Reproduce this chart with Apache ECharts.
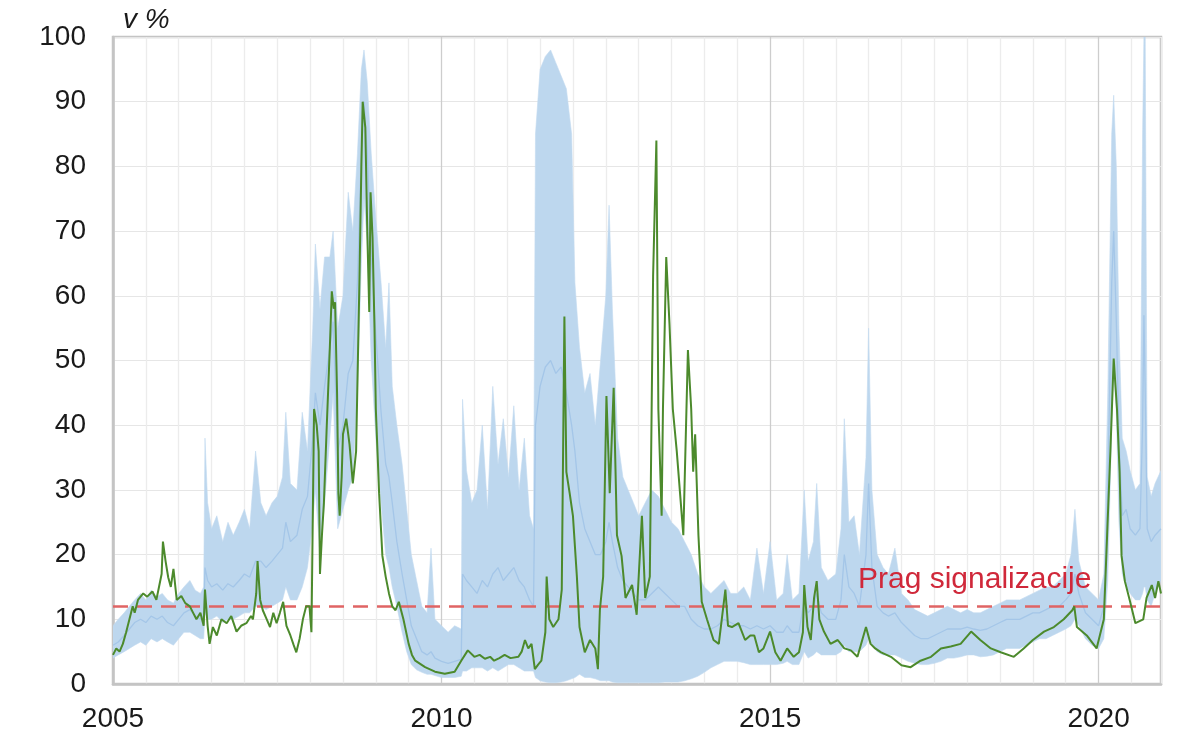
<!DOCTYPE html>
<html><head><meta charset="utf-8">
<script src="https://cdn.jsdelivr.net/npm/echarts@6/dist/echarts.min.js"></script>
<style>html,body{margin:0;padding:0;background:#fff}#c{width:1200px;height:744px}</style>
</head><body><div id="c"></div><script>
// ---- band (range across indicators): x in decimal years ----
const bandX = [2005.00,2005.08,2005.17,2005.25,2005.33,2005.42,2005.50,2005.58,2005.67,2005.75,2005.83,2005.92,
2006.00,2006.08,2006.17,2006.25,2006.33,2006.38,2006.40,2006.44,2006.50,2006.58,2006.67,2006.75,2006.83,2006.92,
2007.00,2007.08,2007.17,2007.25,2007.33,2007.42,2007.50,2007.58,2007.63,2007.70,2007.80,2007.88,2007.96,
2008.04,2008.08,2008.15,2008.22,2008.30,2008.35,2008.42,2008.50,2008.58,2008.65,2008.72,2008.78,2008.82,2008.87,2008.93,
2009.00,2009.08,2009.15,2009.20,2009.25,2009.32,2009.40,2009.47,2009.54,2009.62,2009.70,2009.78,2009.84,2009.90,
2010.00,2010.10,2010.20,2010.30,2010.32,2010.38,2010.46,2010.54,2010.62,2010.70,2010.78,2010.86,2010.94,
2011.02,2011.10,2011.18,2011.26,2011.34,2011.40,2011.43,2011.50,2011.58,2011.66,2011.74,2011.82,2011.90,2011.98,
2012.03,2012.10,2012.18,2012.26,2012.34,2012.42,2012.50,2012.55,2012.60,2012.68,2012.76,2012.84,2012.92,
2013.00,2013.10,2013.20,2013.30,2013.40,2013.50,2013.60,2013.70,2013.80,2013.90,
2014.00,2014.10,2014.20,2014.30,2014.40,2014.50,2014.60,2014.70,2014.80,2014.90,
2015.00,2015.10,2015.20,2015.26,2015.34,2015.44,2015.52,2015.58,2015.66,2015.71,2015.78,2015.88,
2016.00,2016.08,2016.13,2016.20,2016.28,2016.36,2016.46,2016.50,2016.55,2016.63,2016.72,2016.80,2016.90,
2017.00,2017.10,2017.20,2017.30,2017.40,2017.50,2017.60,2017.70,2017.80,2017.90,
2018.00,2018.10,2018.20,2018.30,2018.40,2018.50,2018.60,2018.70,2018.80,2018.90,
2019.00,2019.10,2019.20,2019.30,2019.40,2019.50,2019.58,2019.64,2019.70,2019.80,2019.90,
2020.00,2020.08,2020.14,2020.20,2020.23,2020.27,2020.31,2020.36,2020.42,2020.48,2020.56,2020.63,2020.67,2020.69,2020.71,2020.74,2020.80,2020.86,2020.95];
const bandLow = [4,4.5,5,5.5,6,6.5,6,7,6.5,7,6.5,6,
7,8,8,7.5,7,7,11,10,10,10.5,9.5,10,10,10.5,
11,11,12,12,11.5,12,12.5,13,15,13,13,15,18,
25,30,20,28,38,45,24,27,30,32,45,65,75,68,50,
38,28,20,18,15,12,8,5,3,2.2,1.8,1.5,1.5,1.3,
1,1,1,1.2,2,2,2.5,2.5,2.5,2,2.5,2,2.5,
3,3,2.5,2,2,2,1,0.5,0.3,0.2,0.2,0.3,0.5,0.8,
1,1.5,1,1,0.8,0.5,0.5,0.5,0.3,0.2,0.2,0.2,0.2,
0.2,0.2,0.2,0.2,0.3,0.3,0.3,0.5,0.8,1.2,
1.8,2.5,3,3.5,3.5,3.5,3.3,3,3,3,
3,3,3.2,3.5,3,3,5,4,4.5,5,4.5,4.5,
4.5,5,6,5,5,5,6,7,6,5,4.5,4.5,4.5,
4,3.5,3.2,3,3,3.2,3.5,4,4,4.2,
4.5,4.5,4.2,4.3,4.5,5,5.5,5.5,5.5,6,
6.5,7,7,7.5,8,8.5,9,10,9,7,6,
5.5,7,16,40,49,42,25,17,15,14,13,13,14,15,15,13,12,14,16];
const bandMed = [6,6.5,7.5,8.5,9.5,10,9.5,10.5,10,10.5,9.5,9,
10,11,11.5,10.5,10,10.5,18,16,15,15.5,14.5,15.5,15,16,
17,16.5,19,19,18,19,20,21,25,22,23,27,29,
38,45,40,46,52,56,36,40,48,50,62,82,90,82,66,
54,42,34,32,28,22,17,13,9,7,5,4.5,5,4,
3.5,3.2,3.5,3.8,17,16,15,14,16,15,17,18,16,
17,18,16,15,13,12,40,46,49,50,48,49,45,40,
36,28,24,22,20,20,22,25,22,18,16,15,14,
13,13,14,15,14,13,12,12,10,9,
8.5,8.5,9,10,9.5,9,9,8.5,9,8.5,
9,8,8,9,8,8,13,11,12,14,11,10,
10,13,20,15,14,12,20,31,18,12,11,10.5,11,
9.5,8.5,7.5,7,7,7.5,8,8.5,8.5,8.5,
8.8,8.5,8.3,8.5,9,9.5,10,10,10,10.5,
11,11,11.5,12,12,13,14,17,14,11,10,
9,12,30,62,70,56,38,26,27,24,23,24,40,57,45,24,22,23,24];
const bandHigh = [9,10,11,12,13,14,13,14.5,13.5,14,13,12.5,
14,15,16,14.5,14,15,38,28,24,26,22,25,23,25,
27,24,36,28,26,28,29,32,42,31,30,42,36,
55,68,58,66,66,70,55,60,76,70,82,95,98,93,82,
72,62,52,62,46,40,34,27,20,16,12,11,21,10,
9,8,9,8.5,44,33,28,30,40,27,46,34,41,
32,43,30,38,26,24,85,95,97,98,96,94,92,85,
62,52,45,48,40,50,60,74,58,38,32,30,28,
26,28,30,29,27,25,24,22,20,17,
15,14,15,16,14,14,15,13,21,14,
22,13,14,20,13,14,30,19,22,31,18,16,
17,24,41,25,26,20,35,55,30,20,18,17,21,
14,13,11.5,11,10.5,11,11.5,12,11.5,11,
11.5,11,11,11.5,12,12.5,13,13,13,13.5,
14,14.5,15,15,16,17,20,27,19,15,14,
13,17,45,85,91,80,55,38,36,33,30,31,85,100,100,32,29,31,33];
// ---- green line (indicator) ----
const greenX = [2005.00,2005.05,2005.10,2005.15,2005.20,2005.25,2005.30,2005.33,2005.38,2005.46,2005.52,2005.60,2005.66,2005.70,2005.74,2005.76,2005.80,2005.84,2005.88,2005.92,2005.97,
2006.04,2006.10,2006.17,2006.22,2006.27,2006.33,2006.38,2006.40,2006.44,2006.47,2006.52,2006.58,2006.65,2006.73,2006.80,2006.88,2006.95,
2007.03,2007.10,2007.13,2007.18,2007.20,2007.24,2007.28,2007.34,2007.39,2007.44,2007.49,2007.54,2007.59,2007.64,2007.70,2007.75,2007.79,2007.84,2007.89,2007.94,2007.99,
2008.02,2008.06,2008.10,2008.13,2008.15,2008.18,2008.21,2008.25,2008.30,2008.33,2008.36,2008.38,2008.41,2008.43,2008.45,2008.48,2008.50,2008.55,2008.60,2008.65,2008.70,2008.75,2008.78,2008.80,2008.84,2008.87,2008.90,2008.92,2008.95,2008.98,
2009.00,2009.05,2009.10,2009.15,2009.20,2009.25,2009.30,2009.35,2009.42,2009.50,2009.55,2009.60,2009.75,2009.90,
2010.05,2010.20,2010.30,2010.40,2010.50,2010.58,2010.66,2010.74,2010.80,2010.88,2010.96,
2011.05,2011.17,2011.22,2011.27,2011.32,2011.37,2011.42,2011.47,2011.52,2011.58,2011.60,2011.64,2011.70,2011.78,2011.83,2011.87,2011.90,2011.95,
2012.00,2012.06,2012.10,2012.18,2012.26,2012.34,2012.38,2012.41,2012.46,2012.51,2012.56,2012.62,2012.67,2012.74,2012.80,2012.90,2012.97,
2013.05,2013.10,2013.17,2013.22,2013.27,2013.30,2013.35,2013.37,2013.42,2013.47,2013.52,2013.58,2013.63,2013.68,2013.75,2013.80,2013.83,2013.86,2013.91,2013.96,
2014.04,2014.14,2014.22,2014.32,2014.36,2014.42,2014.52,2014.62,2014.70,2014.76,2014.83,2014.90,
2015.00,2015.08,2015.16,2015.26,2015.36,2015.44,2015.50,2015.52,2015.57,2015.62,2015.67,2015.71,2015.75,2015.82,2015.92,
2016.03,2016.13,2016.23,2016.33,2016.46,2016.53,2016.60,2016.69,2016.84,
2017.00,2017.14,2017.29,2017.45,2017.60,2017.75,2017.90,
2018.06,2018.20,2018.36,2018.51,2018.71,2018.86,
2019.00,2019.17,2019.32,2019.47,2019.60,2019.63,2019.67,2019.82,2019.97,
2020.08,2020.13,2020.18,2020.23,2020.28,2020.32,2020.35,2020.40,2020.48,2020.56,2020.68,2020.73,2020.81,2020.86,2020.91,2020.95];
const greenY = [4.5,5.5,5,6.2,8,10,12,11,13,14,13.5,14.3,13,15,17,22,19,16.5,15,17.8,13,
13.6,12.5,12,11,10,11,9,14.6,9,6.2,8.8,7.5,10,9.4,10.5,8.1,9,
9.4,10.5,10,14,19,13,11.4,10,8.8,11,9.4,11,12.7,9,7.5,6,4.9,7,10,12,12,
8,42.5,40,36,17,23,28,39,52,60.7,58,59,45,29.5,26,32,38.6,41,37,31,36,62,80,90,86,70,57.5,76,69,55,
42.5,29.5,19.8,16.6,14,12,11.4,12.7,10,6.2,4.5,3.6,2.6,1.9,
1.6,1.9,3.6,5.2,4.2,4.5,3.9,4.2,3.6,4,4.5,
4,4.2,5,6.8,5.5,6.2,2.3,3,3.6,8,16.6,10,8.8,10,14.6,56.8,32.8,29.5,
26,16.6,8.8,4.9,6.8,5.5,2.3,11.4,16.6,44.5,29.5,45.8,23,19.8,13.3,15.3,10.7,
26,13.3,16.6,63,84,42.5,26,42.5,66,55.5,42.5,36,29.5,23,51.6,42.5,32.8,38.6,23,12.7,
10,6.8,6.2,14.6,9,8.8,9.4,6.8,7.5,7.5,4.9,5.5,
8.1,4.9,3.6,5.5,4.2,4.9,8,15.3,8.8,6.8,13.3,15.9,10,8.1,6.2,
6.8,5.5,5.2,4.2,8.8,6.2,5.5,4.9,4.2,
2.9,2.6,3.6,4.2,5.5,5.8,6.2,
8.1,6.8,5.5,4.9,4.2,5.5,
6.8,8.1,8.8,10,11.4,12,8.8,7.5,5.5,
10,23,36,50.3,42.5,32.8,19.8,15.9,12.7,9.4,10,13.3,15.3,13.3,15.9,14];
const threshold = 12;
const thresholdLabel = 'Prag signalizacije';
const yUnit = 'v %';
const xMin = 2005, xMax = 2020.95;

const FONT = '"Liberation Sans", Arial, sans-serif';
const pair = (xs, ys) => xs.map((x, i) => [x, ys[i]]);
const majorColors = ['#cdcdcd','#ececec','#ececec','#ececec','#ececec','#ececec','#ececec','#ececec','#ececec','#ececec'];

// band polygon through the axes' own scales
function renderBand(params, api) {
  if (params.dataIndex !== 0) return null;
  const pts = [];
  for (let i = 0; i < bandX.length; i++) pts.push(api.coord([bandX[i], bandHigh[i]]));
  for (let i = bandX.length - 1; i >= 0; i--) pts.push(api.coord([bandX[i], bandLow[i]]));
  return {type: 'polygon', shape: {points: pts}, style: {fill: '#bdd7ee', stroke: '#c2daf0', lineWidth: 0.6}, silent: true};
}

const chart = echarts.init(document.getElementById('c'), null, {renderer: 'canvas'});
chart.setOption({
  animation: false,
  backgroundColor: '#fff',
  grid: {left: 113, right: 39, top: 37, bottom: 60, show: true, borderColor: '#c4c4c4', borderWidth: 2.5, backgroundColor: 'transparent', containLabel: false, outerBoundsMode: 'none'},
  xAxis: {
    type: 'value', min: xMin, max: xMax, interval: 0.5,
    axisLine: {show: true, lineStyle: {color: '#c4c4c4', width: 2.5}},
    axisTick: {show: false},
    splitLine: {show: true, lineStyle: {color: majorColors, width: 1.3}},
    axisLabel: {
      interval: 0, margin: 21, fontSize: 28, color: '#1a1a1a', fontFamily: FONT,
      showMaxLabel: false,
      formatter: v => (Math.abs(v / 5 - Math.round(v / 5)) < 1e-6 ? String(Math.round(v)) : '')
    }
  },
  yAxis: {
    type: 'value', min: 0, max: 100, interval: 10,
    axisLine: {show: true, lineStyle: {color: '#c4c4c4', width: 2.5}},
    axisTick: {show: false},
    splitLine: {show: true, lineStyle: {color: '#e6e6e6', width: 1.2}},
    axisLabel: {margin: 27, fontSize: 28, color: '#1a1a1a', fontFamily: FONT}
  },
  graphic: [
    {type: 'text', left: 123, top: 6, style: {text: yUnit, font: 'italic 28px ' + FONT, fill: '#1a1a1a'}},
    {type: 'text', left: 858, top: 565, z: 50, style: {text: thresholdLabel, font: '30px ' + FONT, fill: '#d0283a'}}
  ],
  series: [
    {type: 'custom', name: 'range', data: pair(bandX, bandHigh), renderItem: renderBand, silent: true, clip: true, z: 1},
    {type: 'line', name: 'median', data: pair(bandX, bandMed), symbol: 'none',
     lineStyle: {width: 1.3, color: '#a4c6e8'}, silent: true, z: 2,
     markLine: {silent: true, symbol: 'none', label: {show: false},
       lineStyle: {color: '#e06464', width: 2.5, type: [15, 9]},
       data: [{yAxis: threshold}]}},
    {type: 'line', name: 'indicator', data: pair(greenX, greenY), symbol: 'none',
     lineStyle: {width: 2, color: '#4c8a2c'}, silent: true, z: 10}
  ]
});
</script></body></html>
